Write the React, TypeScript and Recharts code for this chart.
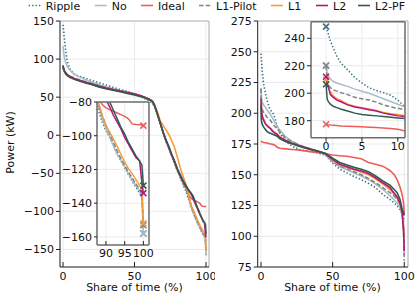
import React from 'react';
import { LineChart, Line, XAxis, YAxis, CartesianGrid, ReferenceLine } from 'recharts';

const FONT = '"DejaVu Sans", Verdana, sans-serif';
const INK = '#111111';
const AXIS = '#222222';
const FRAME = '#b4b4b4';
const GRID = '#e6e6e6';
const INSET_FRAME = '#6e6e6e';

const seriesKeys = ['ripple', 'no', 'ideal', 'pilot', 'l1', 'l2', 'pf'];
const seriesNames = ['Ripple', 'No', 'Ideal', 'L1-Pilot', 'L1', 'L2', 'L2-PF'];
const seriesColors = ['#3d6f80', '#a7bfcb', '#ee5c5a', '#848484', '#f59c3c', '#b0177f', '#2f5c4c'];
const seriesDashes = ['1.4 2', '', '', '4.5 2.2', '', '', ''];
const legendTextX = [45.7, 111.7, 158, 216, 288, 333, 375];

// Left panel: share of time (%) vs power (kW)
const leftShare = [0, 0.3, 1, 2, 3, 5, 8, 12, 16, 20, 25, 30, 35, 40, 45, 50, 54, 57, 60, 62, 63, 64, 66, 68, 70, 72, 74, 76, 78, 80, 82, 84, 86, 88, 89, 90, 91, 92, 93, 94, 95, 96, 97, 98, 99, 99.6, 100];
const leftRipple = [145, 140, 126, 110, 97, 86, 80, 77, 74.5, 72, 69, 66, 63, 60, 57.5, 54.5, 51, 48, 45.5, 43, 41, 38, 27, 15, 3, -8, -18, -27, -37, -47, -56, -65, -74, -85, -92, -97, -101, -106, -111, -115, -119, -123, -127, -130.5, -134, -137, -158];
const leftNo = [117, 112, 102, 95, 90, 85, 80, 76, 72.5, 70, 66.5, 63.5, 61, 58.5, 56.5, 54, 51, 48.5, 46, 43.5, 41, 38, 28, 16, 4, -7, -17, -26, -36, -45.5, -54, -62, -71, -82, -90, -96, -100.5, -106, -111, -114.5, -118.5, -122.5, -126, -129.5, -133, -135.5, -158];
const leftIdeal = [90, 87, 83.5, 80, 78.5, 76.5, 74, 71.5, 69, 67, 64.5, 62, 60, 58, 56, 54, 52, 50, 47.5, 45.5, 43, 39, 28, 16, 3.5, -7, -16, -26, -35, -45, -53, -61, -69, -78, -81.5, -83.5, -84.5, -85.5, -86.5, -87.5, -88.5, -90, -93, -93.3, -93.5, -93.7, -94];
const leftPilot = [92, 89, 85, 82, 80, 77.5, 75, 72.5, 70, 68, 65, 62.5, 60.5, 58.5, 56.5, 54, 52, 50, 47.5, 45, 42.5, 38.5, 28, 16, 4, -7, -17, -26.5, -36, -46, -54.5, -63, -71, -82, -88, -94, -99, -104, -109, -113.5, -117.5, -121.5, -125, -128.5, -132, -134.5, -153];
const leftL1 = [90, 87, 83, 80, 78, 75.5, 73.5, 71, 68.5, 66.5, 64, 61.5, 59.5, 57.5, 55.5, 53.5, 51.5, 50, 47.5, 45.5, 43.5, 40, 31, 19, 13, 7, 1, -7, -16, -29, -43, -54, -65, -80, -88, -94, -98, -102, -106.5, -111, -115.5, -119.5, -122.5, -126, -129.5, -131.5, -152];
const leftL2 = [91.5, 88.5, 84.5, 81.5, 79.5, 77, 74.5, 72, 69.5, 67.5, 64.5, 62, 60, 58, 56, 54, 52, 50, 47.5, 45.5, 43.5, 39.5, 28, 16, 4, -6.5, -15.5, -26, -35, -45, -53, -61, -67, -73, -75.5, -78.5, -83, -88, -92, -96, -101, -105, -109, -113, -115, -128, -134];
const leftPF = [91, 88, 84, 80.5, 78.5, 76, 73.5, 71, 68.5, 66.5, 63.5, 61, 59, 57, 55, 53, 51, 49.5, 47, 45, 43, 39, 28, 16, 4, -6, -15, -25, -34, -44, -52, -60, -66, -72, -74.5, -77, -80, -85, -90, -95, -99, -104, -108, -112, -115, -117.5, -129.6];

// Right panel
const rightShare = [0, 0.15, 0.3, 0.6, 1, 1.5, 2, 3, 4, 5, 6, 7, 8, 9, 10, 11, 13, 17, 22, 27, 33, 40, 45, 50, 55, 60, 65, 70, 75, 80, 85, 90, 93, 95, 97, 98.5, 99.5, 100];
const rightRipple = [248.5, 246, 243.5, 238, 233, 227, 222.5, 217, 211.5, 207.5, 204, 202, 200.5, 198.5, 195, 190, 184, 177.5, 173, 170.5, 169, 167.5, 166, 159.5, 154.5, 151.5, 148.5, 146, 143, 139.5, 134, 130, 127, 125, 121.5, 118.5, 115.5, 112];
const rightNo = [220.5, 215, 213, 210.5, 208.5, 207.5, 206.5, 205, 203, 201.5, 200, 198, 196, 194, 192, 190, 186.5, 181, 177, 174, 171.5, 168.5, 166.5, 160.5, 156.5, 154, 151.5, 149, 146, 142.5, 138, 133, 129.5, 127, 123, 118, 105, 84];
const rightIdeal = [177.4, 177.2, 177, 176.8, 176.6, 176.4, 176.2, 176, 175.8, 175.5, 175.2, 175, 174.7, 174.3, 173.8, 172.5, 171.5, 171, 170.5, 170, 169, 168, 167, 166, 165.5, 165, 164, 163, 160, 158.5, 157, 153.5, 150, 146, 140, 134, 127, 117];
const rightPilot = [220, 210, 206, 204, 202.5, 201.5, 200.5, 199, 197, 196, 195, 193.5, 191.5, 190, 189, 188, 185, 180, 176.5, 174, 171.5, 169, 166.5, 161, 157, 155, 152.5, 150, 147, 143.5, 139.5, 135.5, 132.5, 130, 126, 121, 105, 80];
const rightL1 = [210, 206, 204, 201, 198, 196, 195, 192, 190.5, 189.5, 188.5, 187.5, 186, 185, 184.5, 183.5, 181, 178, 175.5, 173.5, 171, 169, 167, 162, 158, 156, 154, 152, 150, 146.5, 142.5, 138, 134, 131, 126, 119, 108, 100];
const rightL2 = [212, 208, 205, 199, 197, 195, 194, 191.5, 190, 189, 188, 187, 185.5, 184.5, 183.5, 183, 180.5, 178, 175.5, 173.5, 171.5, 169, 167, 162.5, 158.5, 156.5, 154.5, 153, 151, 147.5, 143.5, 139.5, 135, 132, 127, 119, 105, 88];
const rightPF = [206.5, 196, 194, 192, 190.5, 189.5, 188.5, 187, 185.5, 184.5, 184, 183.5, 183, 182.5, 182, 181.5, 179.5, 177, 175, 173, 171, 169, 167.5, 163.5, 160, 158, 156, 154.5, 152.5, 149, 145, 141.5, 138, 135.5, 130, 122, 119, 117];

// Axis ticks and domains
const mainXTicks = [0, 50, 100];
const leftYTicks = [-150, -100, -50, 0, 50, 100, 150];
const rightYTicks = [75, 100, 125, 150, 175, 200, 225, 250, 275];
const leftXDomain: [number, number] = [-2.1, 102.1];
const rightXDomain: [number, number] = [-2.3, 102.6];
const leftYDomain: [number, number] = [-173, 150];
const rightYDomain: [number, number] = [75, 275];
const leftInsetXTicks = [90, 95, 100];
const leftInsetYTicks = [-160, -140, -120, -100, -80];
const leftInsetXDomain: [number, number] = [87.6, 101.5];
const leftInsetYDomain: [number, number] = [-164.8, -80];
const rightInsetXTicks = [0, 5, 10];
const rightInsetYTicks = [180, 200, 220, 240];
const rightInsetXDomain: [number, number] = [-2.1, 11];
const rightInsetYDomain: [number, number] = [167.6, 252.1];

const leftSeries = [leftRipple, leftNo, leftIdeal, leftPilot, leftL1, leftL2, leftPF];
const rightSeries = [rightRipple, rightNo, rightIdeal, rightPilot, rightL1, rightL2, rightPF];

const buildRows = (xs: number[], series: number[][]) =>
  xs.map((x, i) => {
    const row: Record<string, number> = { x };
    seriesKeys.forEach((k, s) => {
      row[k] = series[s][i];
    });
    return row;
  });

const leftRows = buildRows(leftShare, leftSeries);
const rightRows = buildRows(rightShare, rightSeries);

const fmt = (v: number) => (v < 0 ? '\u2212' + Math.abs(v) : String(v));

const xTick = (len: number, dy: number, inward: boolean) => (props: any) => {
  const { x, y, payload, index } = props;
  return (
    <g key={`xt-${index}-${payload.value}`}>
      <line x1={x} x2={x} y1={y} y2={inward ? y - len : y + len} stroke={AXIS} strokeWidth={1} />
      <text x={x} y={y + dy} textAnchor="middle" fontSize={11} fontFamily={FONT} fill={INK}>
        {fmt(payload.value)}
      </text>
    </g>
  );
};

const yTickStyle = { fontSize: 11, fill: INK, fontFamily: FONT };

const marker = (color: string, target: number) => (p: any) => {
  const key = `m-${p.index}`;
  if (p.index !== target || p.cx == null || p.cy == null) return <g key={key} />;
  const s = 3;
  return (
    <path
      key={key}
      d={`M${p.cx - s},${p.cy - s}L${p.cx + s},${p.cy + s}M${p.cx - s},${p.cy + s}L${p.cx + s},${p.cy - s}`}
      stroke={color}
      strokeWidth={1.6}
      fill="none"
    />
  );
};

const renderLines = (markerIndex: number | null, width: number) =>
  seriesKeys.map((k, i) => (
    <Line
      key={k}
      type="linear"
      dataKey={k}
      stroke={seriesColors[i]}
      strokeWidth={width}
      strokeDasharray={seriesDashes[i] || undefined}
      dot={markerIndex === null ? false : marker(seriesColors[i], markerIndex)}
      activeDot={false}
      isAnimationActive={false}
    />
  ));

export default function App() {
  return (
    <div style={{ position: 'absolute', left: 0, top: 0, width: 420, height: 300, background: '#fff', overflow: 'hidden' }}>
      {/* left main panel */}
      <div style={{ position: 'absolute', left: 0, top: 0 }}>
        <LineChart width={215} height={300} data={leftRows} margin={{ top: 21, right: 6, bottom: 0, left: 0 }}>
          <CartesianGrid stroke={GRID} strokeWidth={0.8} />
          <XAxis
            type="number"
            dataKey="x"
            domain={leftXDomain}
            ticks={mainXTicks}
            interval={0}
            height={33}
            tickSize={0}
            tickMargin={0}
            tickLine={false}
            axisLine={{ stroke: AXIS }}
            tick={xTick(5, 12.5, true)}
          />
          <YAxis
            type="number"
            domain={leftYDomain}
            ticks={leftYTicks}
            interval={0}
            width={60}
            tickSize={4}
            tickMargin={2}
            tickLine={{ stroke: AXIS }}
            axisLine={{ stroke: AXIS }}
            tick={yTickStyle}
            tickFormatter={fmt}
          />
          <ReferenceLine y={leftYDomain[1]} stroke={FRAME} />
          <ReferenceLine x={leftXDomain[1]} stroke={FRAME} />
          {renderLines(null, 1.6)}
        </LineChart>
      </div>

      {/* right main panel */}
      <div style={{ position: 'absolute', left: 200, top: 0 }}>
        <LineChart width={215} height={300} data={rightRows} margin={{ top: 21, right: 7, bottom: 0, left: 0 }}>
          <CartesianGrid stroke={GRID} strokeWidth={0.8} />
          <XAxis
            type="number"
            dataKey="x"
            domain={rightXDomain}
            ticks={mainXTicks}
            interval={0}
            height={33}
            tickSize={0}
            tickMargin={0}
            tickLine={false}
            axisLine={{ stroke: AXIS }}
            tick={xTick(5, 12.5, true)}
          />
          <YAxis
            type="number"
            domain={rightYDomain}
            ticks={rightYTicks}
            interval={0}
            width={57.7}
            tickSize={4}
            tickMargin={2}
            tickLine={{ stroke: AXIS }}
            axisLine={{ stroke: AXIS }}
            tick={yTickStyle}
            tickFormatter={fmt}
          />
          <ReferenceLine y={rightYDomain[1]} stroke={FRAME} />
          <ReferenceLine x={rightXDomain[1]} stroke={FRAME} />
          {renderLines(null, 1.6)}
        </LineChart>
      </div>

      {/* left inset */}
      <div style={{ position: 'absolute', left: 57, top: 92 }}>
        <LineChart width={100} height={168} data={leftRows} margin={{ top: 10, right: 8, bottom: 0, left: 0 }}>
          <CartesianGrid stroke={GRID} strokeWidth={0.8} fill="#ffffff" fillOpacity={1} />
          <XAxis
            type="number"
            dataKey="x"
            domain={leftInsetXDomain}
            ticks={leftInsetXTicks}
            interval={0}
            allowDataOverflow
            height={15}
            tickSize={0}
            tickMargin={0}
            tickLine={false}
            axisLine={{ stroke: INSET_FRAME, strokeWidth: 1.5 }}
            tick={xTick(4, 11.5, true)}
          />
          <YAxis
            type="number"
            domain={leftInsetYDomain}
            ticks={leftInsetYTicks}
            interval={0}
            allowDataOverflow
            width={40}
            tickSize={3}
            tickMargin={2}
            tickLine={{ stroke: AXIS }}
            axisLine={{ stroke: INSET_FRAME, strokeWidth: 1.5 }}
            tick={yTickStyle}
            tickFormatter={fmt}
          />
          {renderLines(leftShare.length - 1, 1.5)}
          <ReferenceLine y={leftInsetYDomain[1]} stroke={INSET_FRAME} strokeWidth={1.5} />
          <ReferenceLine x={leftInsetXDomain[1]} stroke={INSET_FRAME} strokeWidth={1.5} />
        </LineChart>
      </div>

      {/* right inset */}
      <div style={{ position: 'absolute', left: 270, top: 18 }}>
        <LineChart width={138} height={140} data={rightRows} margin={{ top: 3.7, right: 3, bottom: 0, left: 0 }}>
          <CartesianGrid stroke={GRID} strokeWidth={0.8} fill="#ffffff" fillOpacity={1} />
          <XAxis
            type="number"
            dataKey="x"
            domain={rightInsetXDomain}
            ticks={rightInsetXTicks}
            interval={0}
            allowDataOverflow
            height={20.3}
            tickSize={0}
            tickMargin={0}
            tickLine={false}
            axisLine={{ stroke: INSET_FRAME, strokeWidth: 1.5 }}
            tick={xTick(4, 12.3, false)}
          />
          <YAxis
            type="number"
            domain={rightInsetYDomain}
            ticks={rightInsetYTicks}
            interval={0}
            allowDataOverflow
            width={41}
            tickSize={4}
            tickMargin={2}
            tickLine={{ stroke: AXIS }}
            axisLine={{ stroke: INSET_FRAME, strokeWidth: 1.5 }}
            tick={yTickStyle}
            tickFormatter={fmt}
          />
          {renderLines(0, 1.5)}
          <ReferenceLine y={rightInsetYDomain[1]} stroke={INSET_FRAME} strokeWidth={1.5} />
          <ReferenceLine x={rightInsetXDomain[1]} stroke={INSET_FRAME} strokeWidth={1.5} />
        </LineChart>
      </div>

      {/* legend and axis titles */}
      <svg width={420} height={300} style={{ position: 'absolute', left: 0, top: 0, pointerEvents: 'none' }}>
        {seriesNames.map((name, i) => (
          <g key={name}>
            <line
              x1={legendTextX[i] - 17}
              x2={legendTextX[i] - 5}
              y1={5.5}
              y2={5.5}
              stroke={seriesColors[i]}
              strokeWidth={1.6}
              strokeDasharray={seriesDashes[i] || undefined}
            />
            <text x={legendTextX[i]} y={9.5} fontSize={11} fontFamily={FONT} fill={INK}>
              {name}
            </text>
          </g>
        ))}
        <text x={13.5} y={142.5} transform="rotate(-90 13.5 142.5)" textAnchor="middle" fontSize={11} fontFamily={FONT} fill={INK}>
          Power (kW)
        </text>
        <text x={134.5} y={291} textAnchor="middle" fontSize={11} fontFamily={FONT} fill={INK}>
          Share of time (%)
        </text>
        <text x={332.5} y={291} textAnchor="middle" fontSize={11} fontFamily={FONT} fill={INK}>
          Share of time (%)
        </text>
      </svg>
    </div>
  );
}
